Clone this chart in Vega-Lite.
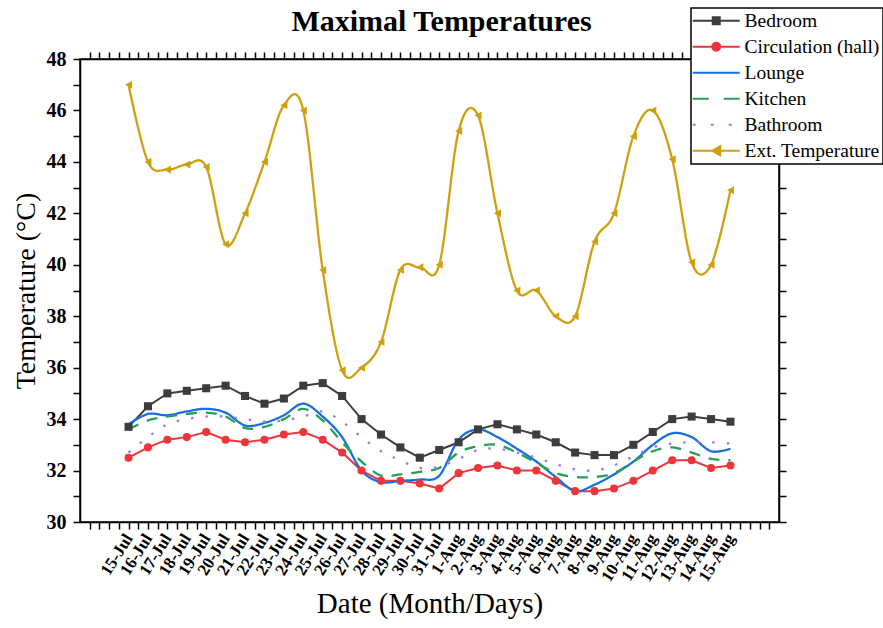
{
  "$schema": "https://vega.github.io/schema/vega-lite/v6.json",
  "width": 699,
  "height": 463,
  "autosize": {"type": "none"},
  "padding": {"left": 80, "top": 59, "right": 104, "bottom": 106},
  "background": "white",
  "title": {
    "text": "Maximal Temperatures",
    "font": "Liberation Serif",
    "fontSize": 30,
    "fontWeight": "bold",
    "color": "black",
    "frame": "group",
    "anchor": "middle",
    "dx": 12,
    "baseline": "alphabetic",
    "offset": -54
  },
  "data": {
    "values": [
      {"i":0,"s":"Bedroom","t":33.7},{"i":1,"s":"Bedroom","t":34.5},{"i":2,"s":"Bedroom","t":35.0},{"i":3,"s":"Bedroom","t":35.1},
      {"i":4,"s":"Bedroom","t":35.2},{"i":5,"s":"Bedroom","t":35.3},{"i":6,"s":"Bedroom","t":34.9},{"i":7,"s":"Bedroom","t":34.6},
      {"i":8,"s":"Bedroom","t":34.8},{"i":9,"s":"Bedroom","t":35.3},{"i":10,"s":"Bedroom","t":35.4},{"i":11,"s":"Bedroom","t":34.9},
      {"i":12,"s":"Bedroom","t":34.0},{"i":13,"s":"Bedroom","t":33.4},{"i":14,"s":"Bedroom","t":32.9},{"i":15,"s":"Bedroom","t":32.5},
      {"i":16,"s":"Bedroom","t":32.8},{"i":17,"s":"Bedroom","t":33.1},{"i":18,"s":"Bedroom","t":33.6},{"i":19,"s":"Bedroom","t":33.8},
      {"i":20,"s":"Bedroom","t":33.6},{"i":21,"s":"Bedroom","t":33.4},{"i":22,"s":"Bedroom","t":33.1},{"i":23,"s":"Bedroom","t":32.7},
      {"i":24,"s":"Bedroom","t":32.6},{"i":25,"s":"Bedroom","t":32.6},{"i":26,"s":"Bedroom","t":33.0},{"i":27,"s":"Bedroom","t":33.5},
      {"i":28,"s":"Bedroom","t":34.0},{"i":29,"s":"Bedroom","t":34.1},{"i":30,"s":"Bedroom","t":34.0},{"i":31,"s":"Bedroom","t":33.9},

      {"i":0,"s":"Circulation (hall)","t":32.5},{"i":1,"s":"Circulation (hall)","t":32.9},{"i":2,"s":"Circulation (hall)","t":33.2},{"i":3,"s":"Circulation (hall)","t":33.3},
      {"i":4,"s":"Circulation (hall)","t":33.5},{"i":5,"s":"Circulation (hall)","t":33.2},{"i":6,"s":"Circulation (hall)","t":33.1},{"i":7,"s":"Circulation (hall)","t":33.2},
      {"i":8,"s":"Circulation (hall)","t":33.4},{"i":9,"s":"Circulation (hall)","t":33.5},{"i":10,"s":"Circulation (hall)","t":33.2},{"i":11,"s":"Circulation (hall)","t":32.7},
      {"i":12,"s":"Circulation (hall)","t":32.0},{"i":13,"s":"Circulation (hall)","t":31.6},{"i":14,"s":"Circulation (hall)","t":31.6},{"i":15,"s":"Circulation (hall)","t":31.5},
      {"i":16,"s":"Circulation (hall)","t":31.3},{"i":17,"s":"Circulation (hall)","t":31.9},{"i":18,"s":"Circulation (hall)","t":32.1},{"i":19,"s":"Circulation (hall)","t":32.2},
      {"i":20,"s":"Circulation (hall)","t":32.0},{"i":21,"s":"Circulation (hall)","t":32.0},{"i":22,"s":"Circulation (hall)","t":31.6},{"i":23,"s":"Circulation (hall)","t":31.2},
      {"i":24,"s":"Circulation (hall)","t":31.2},{"i":25,"s":"Circulation (hall)","t":31.3},{"i":26,"s":"Circulation (hall)","t":31.6},{"i":27,"s":"Circulation (hall)","t":32.0},
      {"i":28,"s":"Circulation (hall)","t":32.4},{"i":29,"s":"Circulation (hall)","t":32.4},{"i":30,"s":"Circulation (hall)","t":32.1},{"i":31,"s":"Circulation (hall)","t":32.2},

      {"i":0,"s":"Lounge","t":33.8},{"i":1,"s":"Lounge","t":34.2},{"i":2,"s":"Lounge","t":34.15},{"i":3,"s":"Lounge","t":34.3},
      {"i":4,"s":"Lounge","t":34.4},{"i":5,"s":"Lounge","t":34.25},{"i":6,"s":"Lounge","t":33.75},{"i":7,"s":"Lounge","t":33.85},
      {"i":8,"s":"Lounge","t":34.15},{"i":9,"s":"Lounge","t":34.6},{"i":10,"s":"Lounge","t":34.1},{"i":11,"s":"Lounge","t":33.3},
      {"i":12,"s":"Lounge","t":32.0},{"i":13,"s":"Lounge","t":31.55},{"i":14,"s":"Lounge","t":31.6},{"i":15,"s":"Lounge","t":31.65},
      {"i":16,"s":"Lounge","t":31.8},{"i":17,"s":"Lounge","t":33.2},{"i":18,"s":"Lounge","t":33.6},{"i":19,"s":"Lounge","t":33.3},
      {"i":20,"s":"Lounge","t":32.85},{"i":21,"s":"Lounge","t":32.35},{"i":22,"s":"Lounge","t":31.75},{"i":23,"s":"Lounge","t":31.2},
      {"i":24,"s":"Lounge","t":31.45},{"i":25,"s":"Lounge","t":31.85},{"i":26,"s":"Lounge","t":32.35},{"i":27,"s":"Lounge","t":33.0},
      {"i":28,"s":"Lounge","t":33.45},{"i":29,"s":"Lounge","t":33.3},{"i":30,"s":"Lounge","t":32.75},{"i":31,"s":"Lounge","t":32.85},

      {"i":0,"s":"Kitchen","t":33.6},{"i":1,"s":"Kitchen","t":33.95},{"i":2,"s":"Kitchen","t":34.1},{"i":3,"s":"Kitchen","t":34.2},
      {"i":4,"s":"Kitchen","t":34.25},{"i":5,"s":"Kitchen","t":34.1},{"i":6,"s":"Kitchen","t":33.65},{"i":7,"s":"Kitchen","t":33.7},
      {"i":8,"s":"Kitchen","t":34.0},{"i":9,"s":"Kitchen","t":34.4},{"i":10,"s":"Kitchen","t":33.95},{"i":11,"s":"Kitchen","t":33.1},
      {"i":12,"s":"Kitchen","t":32.35},{"i":13,"s":"Kitchen","t":31.8},{"i":14,"s":"Kitchen","t":31.85},{"i":15,"s":"Kitchen","t":31.95},
      {"i":16,"s":"Kitchen","t":32.1},{"i":17,"s":"Kitchen","t":32.7},{"i":18,"s":"Kitchen","t":32.95},{"i":19,"s":"Kitchen","t":33.0},
      {"i":20,"s":"Kitchen","t":32.7},{"i":21,"s":"Kitchen","t":32.3},{"i":22,"s":"Kitchen","t":31.9},{"i":23,"s":"Kitchen","t":31.75},
      {"i":24,"s":"Kitchen","t":31.75},{"i":25,"s":"Kitchen","t":31.9},{"i":26,"s":"Kitchen","t":32.35},{"i":27,"s":"Kitchen","t":32.75},
      {"i":28,"s":"Kitchen","t":32.9},{"i":29,"s":"Kitchen","t":32.7},{"i":30,"s":"Kitchen","t":32.45},{"i":31,"s":"Kitchen","t":32.4},

      {"i":0,"s":"Bathroom","t":32.7},{"i":1,"s":"Bathroom","t":33.3},{"i":2,"s":"Bathroom","t":33.8},{"i":3,"s":"Bathroom","t":34.0},
      {"i":4,"s":"Bathroom","t":34.1},{"i":5,"s":"Bathroom","t":34.1},{"i":6,"s":"Bathroom","t":34.0},{"i":7,"s":"Bathroom","t":33.9},
      {"i":8,"s":"Bathroom","t":33.95},{"i":9,"s":"Bathroom","t":34.1},{"i":10,"s":"Bathroom","t":34.3},{"i":11,"s":"Bathroom","t":33.9},
      {"i":12,"s":"Bathroom","t":33.3},{"i":13,"s":"Bathroom","t":32.75},{"i":14,"s":"Bathroom","t":32.4},{"i":15,"s":"Bathroom","t":32.1},
      {"i":16,"s":"Bathroom","t":32.15},{"i":17,"s":"Bathroom","t":32.45},{"i":18,"s":"Bathroom","t":32.8},{"i":19,"s":"Bathroom","t":32.85},
      {"i":20,"s":"Bathroom","t":32.7},{"i":21,"s":"Bathroom","t":32.5},{"i":22,"s":"Bathroom","t":32.25},{"i":23,"s":"Bathroom","t":32.05},
      {"i":24,"s":"Bathroom","t":32.0},{"i":25,"s":"Bathroom","t":32.2},{"i":26,"s":"Bathroom","t":32.55},{"i":27,"s":"Bathroom","t":32.9},
      {"i":28,"s":"Bathroom","t":33.05},{"i":29,"s":"Bathroom","t":33.1},{"i":30,"s":"Bathroom","t":33.1},{"i":31,"s":"Bathroom","t":33.05},

      {"i":0,"s":"Ext. Temperature","t":47.0},{"i":1,"s":"Ext. Temperature","t":44.0},{"i":2,"s":"Ext. Temperature","t":43.7},{"i":3,"s":"Ext. Temperature","t":43.9},
      {"i":4,"s":"Ext. Temperature","t":43.8},{"i":5,"s":"Ext. Temperature","t":40.8},{"i":6,"s":"Ext. Temperature","t":42.0},{"i":7,"s":"Ext. Temperature","t":44.0},
      {"i":8,"s":"Ext. Temperature","t":46.2},{"i":9,"s":"Ext. Temperature","t":46.0},{"i":10,"s":"Ext. Temperature","t":39.8},{"i":11,"s":"Ext. Temperature","t":35.9},
      {"i":12,"s":"Ext. Temperature","t":36.0},{"i":13,"s":"Ext. Temperature","t":37.0},{"i":14,"s":"Ext. Temperature","t":39.8},{"i":15,"s":"Ext. Temperature","t":39.9},
      {"i":16,"s":"Ext. Temperature","t":40.0},{"i":17,"s":"Ext. Temperature","t":45.2},{"i":18,"s":"Ext. Temperature","t":45.8},{"i":19,"s":"Ext. Temperature","t":42.0},
      {"i":20,"s":"Ext. Temperature","t":39.0},{"i":21,"s":"Ext. Temperature","t":39.0},{"i":22,"s":"Ext. Temperature","t":38.0},{"i":23,"s":"Ext. Temperature","t":38.0},
      {"i":24,"s":"Ext. Temperature","t":40.9},{"i":25,"s":"Ext. Temperature","t":42.0},{"i":26,"s":"Ext. Temperature","t":45.0},{"i":27,"s":"Ext. Temperature","t":46.0},
      {"i":28,"s":"Ext. Temperature","t":44.1},{"i":29,"s":"Ext. Temperature","t":40.1},{"i":30,"s":"Ext. Temperature","t":40.0},{"i":31,"s":"Ext. Temperature","t":42.9}
    ]
  },
  "layer": [
    {
      "transform": [{"filter": {"field": "s", "oneOf": ["Bedroom", "Circulation (hall)"]}}],
      "mark": {"type": "line", "interpolate": "linear", "strokeWidth": 2},
      "encoding": {
        "x": {
          "field": "i", "type": "quantitative",
          "scale": {"domain": [-2.5, 33.5], "nice": false, "zero": false},
          "axis": {
            "orient": "bottom",
            "values": [-2,-1.5,-1,-0.5,0,0.5,1,1.5,2,2.5,3,3.5,4,4.5,5,5.5,6,6.5,7,7.5,8,8.5,9,9.5,10,10.5,11,11.5,12,12.5,13,13.5,14,14.5,15,15.5,16,16.5,17,17.5,18,18.5,19,19.5,20,20.5,21,21.5,22,22.5,23,23.5,24,24.5,25,25.5,26,26.5,27,27.5,28,28.5,29,29.5,30,30.5,31,31.5,32,32.5,33],
            "labelExpr": "datum.value % 1 !== 0 || datum.value < 0 || datum.value > 31 ? '' : (datum.value <= 16 ? (datum.value + 15) + '-Jul' : (datum.value - 16) + '-Aug')",
            "labelAngle": -58,
            "labelAlign": "right",
            "labelBaseline": "middle",
            "labelFontSize": 17,
            "labelPadding": 6,
            "labelOverlap": false,
            "labelFlush": false,
            "tickSize": 7,
            "title": "Date (Month/Days)",
            "titleFontSize": 29,
            "titlePadding": 5,
            "encode": {"ticks": {"update": {"y2": {"signal": "datum.value % 1 === 0 ? 7 : 4"}}}}
          }
        },
        "y": {
          "field": "t", "type": "quantitative",
          "scale": {"domain": [30, 48], "nice": false, "zero": false},
          "axis": {
            "orient": "left",
            "values": [30,31,32,33,34,35,36,37,38,39,40,41,42,43,44,45,46,47,48],
            "labelExpr": "datum.value % 2 === 0 ? datum.label : ''",
            "labelFontSize": 20,
            "labelPadding": 7,
            "tickSize": 7,
            "title": "Temperature (°C)",
            "titleFontSize": 28,
            "titlePadding": 6,
            "encode": {"ticks": {"update": {"x2": {"signal": "datum.value % 2 === 0 ? -7 : -4"}}}}
          }
        },
        "color": {
          "field": "s", "type": "nominal",
          "scale": {
            "domain": ["Bedroom", "Circulation (hall)", "Lounge", "Kitchen", "Bathroom", "Ext. Temperature"],
            "range": ["#3d3d3d", "#f0353a", "#1a6fe0", "#22a05a", "#a774e6", "#d19f0c"]
          },
          "legend": {
            "title": null,
            "orient": "none",
            "legendX": 611,
            "legendY": -51,
            "direction": "vertical",
            "fillColor": "white",
            "strokeColor": "black",
            "padding": 3,
            "rowPadding": 5,
            "labelOffset": 31,
            "symbolSize": 4,
            "symbolStrokeWidth": 2,
            "labelFont": "Liberation Serif",
            "labelFontSize": 19.5,
            "labelFontWeight": "normal",
            "labelColor": "black",
            "labelLimit": 300,
            "encode": {
              "legend": {"update": {"strokeWidth": {"value": 1.5}}},
              "symbols": {
                "update": {
                  "shape": {"signal": "datum.value === 'Bedroom' ? 'M-11,0H36M9,-3.5h7v7h-7z' : datum.value === 'Circulation (hall)' ? 'M-11,0H36M16.5,0A4,4,0,1,1,8.5,0A4,4,0,1,1,16.5,0Z' : datum.value === 'Ext. Temperature' ? 'M-11,0H36M8.5,0L16.5,-4.5V4.5Z' : 'M-11,0H36'"},
                  "strokeDash": {"signal": "datum.value === 'Kitchen' ? [16,15] : datum.value === 'Bathroom' ? [3,15] : []"},
                  "stroke": {"scale": "color", "field": "value"},
                  "fill": {"scale": "color", "field": "value"},
                  "fillOpacity": {"value": 1},
                  "strokeOpacity": {"value": 1}
                }
              }
            }
          }
        }
      }
    },
    {
      "transform": [{"filter": {"field": "s", "oneOf": ["Lounge", "Kitchen", "Bathroom", "Ext. Temperature"]}}],
      "mark": {"type": "line", "interpolate": "cardinal", "strokeWidth": 2.3},
      "encoding": {
        "x": {
          "field": "i", "type": "quantitative",
          "axis": {
            "orient": "top",
            "values": [-2,-1.5,-1,-0.5,0,0.5,1,1.5,2,2.5,3,3.5,4,4.5,5,5.5,6,6.5,7,7.5,8,8.5,9,9.5,10,10.5,11,11.5,12,12.5,13,13.5,14,14.5,15,15.5,16,16.5,17,17.5,18,18.5,19,19.5,20,20.5,21,21.5,22,22.5,23,23.5,24,24.5,25,25.5,26,26.5,27,27.5,28,28.5,29,29.5,30,30.5,31,31.5,32,32.5,33],
            "labels": false,
            "title": null,
            "tickSize": 7,
            "encode": {"ticks": {"update": {"y2": {"signal": "datum.value % 1 === 0 ? 7 : 4"}}}}
          }
        },
        "y": {
          "field": "t", "type": "quantitative",
          "axis": {
            "orient": "right",
            "values": [30,31,32,33,34,35,36,37,38,39,40,41,42,43,44,45,46,47,48],
            "labels": false,
            "title": null,
            "tickSize": 7,
            "encode": {"ticks": {"update": {"x2": {"signal": "datum.value % 2 === 0 ? -7 : -4"}}}}
          }
        },
        "color": {"field": "s", "type": "nominal", "legend": null},
        "strokeDash": {
          "field": "s", "type": "nominal",
          "scale": {"domain": ["Lounge", "Kitchen", "Bathroom", "Ext. Temperature"], "range": [[1, 0], [11, 9], [2.5, 12], [1, 0]]},
          "legend": null
        }
      }
    },
    {
      "transform": [{"filter": {"field": "s", "oneOf": ["Bedroom", "Circulation (hall)", "Ext. Temperature"]}}],
      "mark": {"type": "point", "filled": true, "opacity": 1, "size": 65},
      "encoding": {
        "x": {"field": "i", "type": "quantitative", "axis": null},
        "y": {"field": "t", "type": "quantitative", "axis": null},
        "color": {"field": "s", "type": "nominal", "legend": null},
        "shape": {
          "field": "s", "type": "nominal",
          "scale": {"domain": ["Bedroom", "Circulation (hall)", "Ext. Temperature"], "range": ["square", "circle", "triangle-left"]},
          "legend": null
        }
      }
    }
  ],
  "resolve": {"axis": {"x": "independent", "y": "independent"}},
  "config": {
    "view": {"stroke": "black", "strokeWidth": 1.5},
    "axis": {
      "grid": false,
      "domainColor": "black",
      "domainWidth": 1.5,
      "tickColor": "black",
      "tickWidth": 1.5,
      "labelFont": "Liberation Serif",
      "labelFontWeight": "bold",
      "labelColor": "black",
      "titleFont": "Liberation Serif",
      "titleFontWeight": "normal",
      "titleFontSize": 24,
      "titleColor": "black"
    }
  }
}
